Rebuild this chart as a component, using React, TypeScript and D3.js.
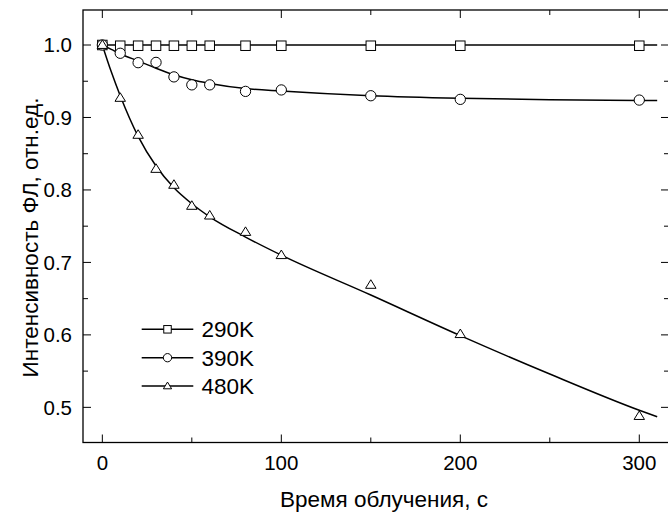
import React from "react";
import * as d3 from "d3";

const seriesNames = ["290K", "390K", "480K"];
const markerShapes = ["square", "circle", "triangle"];

const timeValues = [0, 10, 20, 30, 40, 50, 60, 80, 100, 150, 200, 300];
const values290 = [1.0, 0.999, 0.999, 0.999, 0.999, 0.999, 0.999, 0.999, 0.999, 0.999, 0.999, 0.999];
const values390 = [1.0, 0.9886, 0.9756, 0.976, 0.956, 0.945, 0.945, 0.936, 0.938, 0.930, 0.925, 0.924];
const values480 = [1.0, 0.927, 0.876, 0.829, 0.807, 0.778, 0.7646, 0.742, 0.710, 0.669, 0.601, 0.488];

const fitTime = [0, 5, 10, 20, 30, 40, 50, 60, 80, 100, 150, 200, 250, 300, 310];
const fit290 = [1.0, 1.0, 1.0, 1.0, 1.0, 1.0, 1.0, 1.0, 1.0, 1.0, 1.0, 1.0, 1.0, 1.0, 1.0];
const fit390 = [1.0, 0.994, 0.988, 0.978, 0.968, 0.959, 0.952, 0.947, 0.940, 0.9365, 0.930, 0.9265, 0.9245, 0.9235, 0.9233];
const fit480 = [1.0, 0.963, 0.930, 0.874, 0.833, 0.803, 0.781, 0.763, 0.735, 0.710, 0.655, 0.599, 0.546, 0.496, 0.487];

const xTicks = [0, 100, 200, 300];
const xMinorTicks = [50, 150, 250];
const yTicks = [0.5, 0.6, 0.7, 0.8, 0.9, 1.0];
const yMinorTicks = [0.55, 0.65, 0.75, 0.85, 0.95];

const xTitle = "Время облучения, с";
const yTitle = "Интенсивность ФЛ, отн.ед.";

const FONT = "'Liberation Sans', Arial, sans-serif";

function Marker({ shape, x, y, s }: { shape: string; x: number; y: number; s: number }) {
  const common = { fill: "#fff", stroke: "#000", strokeWidth: 1 };
  if (shape === "square") {
    return <rect x={x - s / 2} y={y - s / 2} width={s} height={s} {...common} />;
  }
  if (shape === "circle") {
    return <circle cx={x} cy={y} r={s / 2 + 0.4} {...common} />;
  }
  const h = s * 0.9;
  const w = s * 1.1;
  return (
    <path
      d={`M${x},${y - h * 0.6} L${x + w / 2},${y + h * 0.4} L${x - w / 2},${y + h * 0.4} Z`}
      {...common}
    />
  );
}

export default function App() {
  const W = 668;
  const H = 515;
  const left = 83;
  const right = 669;
  const top = 10;
  const bottom = 442.5;

  const x = d3.scaleLinear().domain([-10.8, 316.6]).range([left, right]);
  const y = d3.scaleLinear().domain([0.4515, 1.0483]).range([bottom, top]);

  const series = [values290, values390, values480];
  const fits = [fit290, fit390, fit480];

  const line = d3
    .line<[number, number]>()
    .x((d) => x(d[0]))
    .y((d) => y(d[1]))
    .curve(d3.curveMonotoneX);

  const major = 8;
  const minor = 5;

  return (
    <svg width={W} height={H} style={{ position: "absolute", left: 0, top: 0, background: "#fff" }}>
      <rect x={0} y={0} width={W} height={H} fill="#fff" />
      {fits.map((f, i) => (
        <path
          key={"fit" + i}
          d={line(fitTime.map((t, j) => [t, f[j]] as [number, number])) || ""}
          fill="none"
          stroke="#000"
          strokeWidth={1.5}
        />
      ))}
      {series.map((vals, i) =>
        vals.map((v, j) => (
          <Marker key={`m${i}-${j}`} shape={markerShapes[i]} x={x(timeValues[j])} y={y(v)} s={9.5} />
        ))
      )}
      <rect x={left} y={top} width={right - left} height={bottom - top} fill="none" stroke="#000" strokeWidth={1.3} />
      {xTicks.map((t) => (
        <g key={"xt" + t}>
          <line x1={x(t)} x2={x(t)} y1={bottom} y2={bottom - major} stroke="#000" strokeWidth={1} />
          <line x1={x(t)} x2={x(t)} y1={top} y2={top + major} stroke="#000" strokeWidth={1} />
          <text x={x(t)} y={469.5} textAnchor="middle" fontFamily={FONT} fontSize={20.5} fill="#000">
            {t}
          </text>
        </g>
      ))}
      {xMinorTicks.map((t) => (
        <g key={"xm" + t}>
          <line x1={x(t)} x2={x(t)} y1={bottom} y2={bottom - minor} stroke="#000" strokeWidth={1} />
          <line x1={x(t)} x2={x(t)} y1={top} y2={top + minor} stroke="#000" strokeWidth={1} />
        </g>
      ))}
      {yTicks.map((t) => (
        <g key={"yt" + t}>
          <line x1={left} x2={left + major} y1={y(t)} y2={y(t)} stroke="#000" strokeWidth={1} />
          <line x1={right} x2={right - major} y1={y(t)} y2={y(t)} stroke="#000" strokeWidth={1} />
          <text x={72} y={y(t) + 7.3} textAnchor="end" fontFamily={FONT} fontSize={20.5} fill="#000">
            {t.toFixed(1)}
          </text>
        </g>
      ))}
      {yMinorTicks.map((t) => (
        <g key={"ym" + t}>
          <line x1={left} x2={left + minor} y1={y(t)} y2={y(t)} stroke="#000" strokeWidth={1} />
          <line x1={right} x2={right - minor} y1={y(t)} y2={y(t)} stroke="#000" strokeWidth={1} />
        </g>
      ))}
      <text x={384} y={507} textAnchor="middle" fontFamily={FONT} fontSize={22.5} fill="#000">
        {xTitle}
      </text>
      <text
        transform={`translate(37.5,237.5) rotate(-90)`}
        textAnchor="middle"
        fontFamily={FONT}
        fontSize={22.5}
        fill="#000"
      >
        {yTitle}
      </text>
      {seriesNames.map((name, i) => {
        const ly = 329.3 + i * 28.4;
        return (
          <g key={"lg" + i}>
            <line x1={141.7} x2={193.3} y1={ly} y2={ly} stroke="#000" strokeWidth={1.5} />
            <Marker shape={markerShapes[i]} x={167.5} y={ly} s={7.5} />
            <text x={201.5} y={ly + 7.8} fontFamily={FONT} fontSize={22.5} fill="#000">
              {name}
            </text>
          </g>
        );
      })}
    </svg>
  );
}
